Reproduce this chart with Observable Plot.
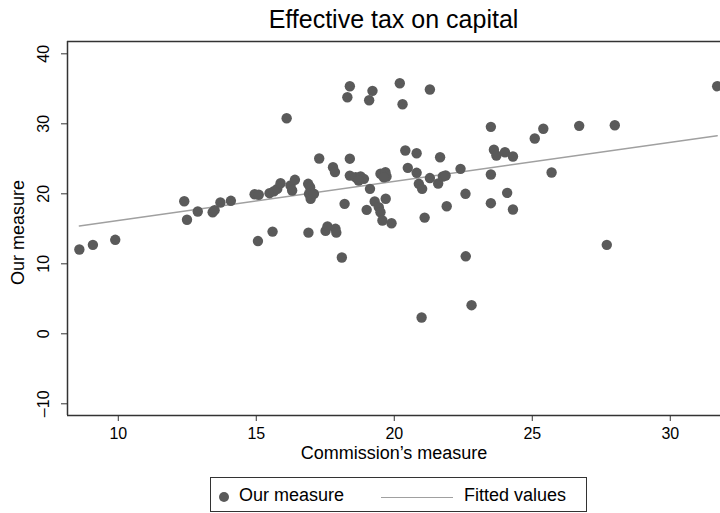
<!DOCTYPE html>
<html><head><meta charset="utf-8">
<script src="https://cdn.jsdelivr.net/npm/d3@7"></script>
<script src="https://cdn.jsdelivr.net/npm/@observablehq/plot@0.6"></script>
<style>
body{margin:0;background:#fff;font-family:"Liberation Sans",Arial,Helvetica,sans-serif}
#wrap{position:relative;width:720px;height:513px;overflow:hidden;background:#fff}
#chart{position:absolute;left:0;top:0}
#title{position:absolute;left:67px;width:653px;top:5px;text-align:center;font-size:25px;color:#000;line-height:28px}
#legend{position:absolute;left:210px;top:477px;width:377px;height:35px;border:1px solid #333;box-sizing:border-box;font-size:18px;color:#000}
#legend .dot{position:absolute;left:8px;top:14px;width:10px;height:10px;border-radius:50%;background:#5a5a5a}
#legend .t1{position:absolute;left:28px;top:7px;line-height:20px}
#legend .ln{position:absolute;left:170px;top:19px;width:72px;height:0;border-top:1.5px solid #a0a0a0}
#legend .t2{position:absolute;left:253px;top:7px;line-height:20px}
</style></head>
<body>
<div id="wrap">
  <div id="chart"></div>
  <div id="title"></div>
  <div id="legend"><span class="dot"></span><span class="t1"></span><span class="ln"></span><span class="t2"></span></div>
</div>
<script>
const titleText = "Effective tax on capital";
const xLabel = "Commission\u2019s measure";
const yLabel = "Our measure";
const seriesNames = ["Our measure", "Fitted values"];

const commission = [8.59, 9.08, 9.89, 12.39, 12.49, 12.88, 13.42, 13.49, 13.70, 14.08,
  14.94, 15.09, 15.06, 15.48, 15.64, 15.76, 15.88, 15.59, 16.10, 16.24,
  16.40, 16.30, 16.88, 16.95, 16.91, 16.97, 17.09, 16.89, 17.28, 17.51,
  17.58, 17.87, 17.90, 17.78, 17.85, 18.10, 18.20, 18.39, 18.39, 18.60,
  18.78, 18.90, 18.71, 18.39, 18.30, 19.21, 19.09, 19.12, 19.00, 19.29,
  19.69, 19.44, 19.50, 19.57, 19.90, 19.50, 19.68, 19.72, 19.62, 20.20,
  20.30, 20.40, 20.81, 20.49, 20.81, 20.89, 21.01, 21.10, 20.99, 21.29,
  21.29, 21.59, 21.66, 21.76, 21.86, 21.90, 22.40, 22.58, 22.59, 22.80,
  23.50, 23.61, 23.70, 24.01, 24.30, 23.50, 23.50, 24.09, 24.30, 25.09,
  25.40, 25.70, 26.70, 27.99, 27.70, 31.70];
const ours = [12.04, 12.71, 13.43, 18.94, 16.29, 17.47, 17.37, 17.66, 18.76, 19.00,
  19.94, 19.86, 13.25, 20.09, 20.37, 20.70, 21.51, 14.60, 30.80, 21.19,
  22.00, 20.47, 21.43, 20.94, 20.00, 19.29, 20.00, 14.45, 25.04, 14.70,
  15.35, 15.00, 14.45, 23.80, 23.10, 10.90, 18.57, 25.02, 22.60, 22.37,
  22.47, 22.14, 21.90, 35.37, 33.80, 34.71, 33.37, 20.71, 17.71, 18.90,
  19.29, 18.09, 17.37, 16.19, 15.80, 22.86, 23.09, 22.47, 22.37, 35.80,
  32.80, 26.19, 25.80, 23.71, 23.00, 21.43, 20.71, 16.60, 2.33, 34.90,
  22.25, 21.47, 25.23, 22.47, 22.61, 18.23, 23.57, 20.00, 11.07, 4.09,
  29.57, 26.29, 25.47, 25.94, 25.33, 22.76, 18.66, 20.14, 17.76, 27.90,
  29.29, 23.04, 29.71, 29.80, 12.71, 35.37];

const xTicks = [10, 15, 20, 25, 30];
const yTicks = [-10, 0, 10, 20, 30, 40];
const yTickLabels = ["\u201310", "0", "10", "20", "30", "40"];
const xDomain = [8.16, 31.82];
const yDomain = [-11.67, 41.76];

const data = commission.map((c, i) => ({c, o: ours[i]}));

document.getElementById("title").textContent = titleText;
document.querySelector("#legend .t1").textContent = seriesNames[0];
document.querySelector("#legend .t2").textContent = seriesNames[1];

const font = '"Liberation Sans", Arial, Helvetica, sans-serif';
const chart = Plot.plot({
  width: 720, height: 513,
  marginLeft: 67, marginRight: 0, marginTop: 41, marginBottom: 98,
  x: {domain: xDomain},
  y: {domain: yDomain},
  style: {fontFamily: font, fontSize: "16px", color: "#000", background: "transparent"},
  marks: [
    Plot.ruleX([xDomain[0]], {stroke: "#333", strokeWidth: 1.5}),
    Plot.ruleY([yDomain[0], yDomain[1]], {stroke: "#333", strokeWidth: 1.5}),
    Plot.axisX(xTicks, {tickSize: 6, tickPadding: 6, stroke: "#333", fill: "#000", fontSize: 16, label: null}),
    Plot.axisY(yTicks, {tickSize: 6, stroke: "#333", tickFormat: () => "", label: null}),
    Plot.text(yTicks, {y: d => d, text: (d, i) => yTickLabels[i], frameAnchor: "left", textAnchor: "middle", rotate: -90, dx: -24, fontSize: 16, fill: "#000"}),
    Plot.text([xLabel], {frameAnchor: "bottom", textAnchor: "middle", dy: 43, fontSize: 18, fill: "#000"}),
    Plot.text([yLabel], {frameAnchor: "left", textAnchor: "middle", rotate: -90, dx: -49, dy: 4, fontSize: 18, fill: "#000"}),
    Plot.linearRegressionY(data, {x: "c", y: "o", ci: 0, stroke: "#a0a0a0", strokeWidth: 1.5}),
    Plot.dot(data, {x: "c", y: "o", r: 5.2, fill: "#5a5a5a", stroke: "none"})
  ]
});
document.getElementById("chart").appendChild(chart);
</script>
</body></html>
